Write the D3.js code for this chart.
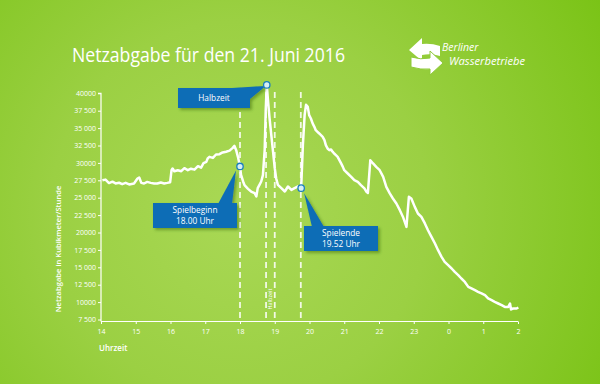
<!DOCTYPE html>
<html><head><meta charset="utf-8">
<script src="https://cdn.jsdelivr.net/npm/d3@7"></script>
<style>
html,body{margin:0;padding:0;background:#8fca3a;}
svg{display:block;}
text{font-family:"Open Sans","Noto Sans",sans-serif;}
</style></head>
<body>
<script>
// ---- data ----
const title = "Netzabgabe für den 21. Juni 2016";
const hours = [14.04,14.13,14.23,14.33,14.42,14.52,14.61,14.71,14.81,14.95,15.05,15.10,15.16,15.24,15.33,15.43,15.53,15.62,15.72,15.82,15.91,15.99,16.03,16.06,16.11,16.21,16.31,16.40,16.50,16.59,16.69,16.79,16.88,16.95,17.03,17.07,17.12,17.22,17.31,17.41,17.50,17.60,17.70,17.79,17.84,17.89,17.94,18.00,18.03,18.09,18.13,18.23,18.32,18.42,18.47,18.51,18.56,18.61,18.66,18.71,18.74,18.77,18.80,18.85,18.90,18.95,19.00,19.04,19.09,19.19,19.29,19.38,19.48,19.57,19.67,19.76,19.81,19.86,19.90,19.95,19.99,20.04,20.09,20.14,20.18,20.23,20.28,20.33,20.38,20.43,20.47,20.52,20.57,20.62,20.67,20.71,20.76,20.81,20.86,20.91,20.96,21.00,21.10,21.20,21.29,21.39,21.48,21.58,21.64,21.68,21.75,21.83,21.92,22.02,22.12,22.21,22.31,22.40,22.50,22.60,22.69,22.74,22.79,22.86,22.93,23.03,23.12,23.22,23.32,23.41,23.51,23.61,23.70,23.80,23.89,23.99,24.09,24.18,24.28,24.37,24.47,24.57,24.66,24.76,24.85,24.95,25.05,25.14,25.24,25.33,25.43,25.53,25.62,25.72,25.77,25.80,25.86,25.96,26.01];
const netzabgabe = [27500,27600,27100,27300,27050,27150,26950,27130,26900,27040,27760,27900,27130,27040,27270,27130,27040,27040,27190,27040,27130,27230,28950,29200,28800,28950,28810,29240,28950,29170,29030,29530,29310,29960,30150,30640,30870,30720,31210,31250,31500,31610,31760,32160,32450,31830,30870,29490,28280,27330,26800,26270,25890,25650,25180,26370,26840,27330,28240,31830,37580,41210,39300,36430,34030,31640,29240,27800,26840,26370,25890,26610,26120,26370,26610,26370,32590,36900,38340,38050,36860,36380,35670,35180,34700,34460,34230,33980,33740,33270,32550,32070,31830,31930,31580,31350,31110,30870,30390,29920,29430,28950,28480,27990,27520,27270,26800,26330,25840,25690,30390,29920,29430,28950,27990,26560,25610,24890,24170,23210,22240,21530,20810,25120,24890,23680,22730,22240,21300,20330,19370,18420,17460,16500,15780,15300,14830,14340,13870,13390,12900,12190,11960,11710,11470,11240,10990,10520,10270,10030,9800,9560,9310,9310,9800,8940,9080,9080,9220];
const yTicks = [7500,10000,12500,15000,17500,20000,22500,25000,27500,30000,32500,35000,37500,40000];
const yTickLabels = ["7 500","10000","12 500","15 000","17 500","20000","22 500","25 000","27 500","30000","32 500","35 000","37 500","40000"];
const xTicks = [14,15,16,17,18,19,20,21,22,23,24,25,26];
const xTickLabels = ["14","15","16","17","18","19","20","21","22","23","0","1","2"];
const eventLines = [18.0, 18.75, 19.0, 19.75];
const callouts = [
  {lines:["Halbzeit"], hour:18.77, value:41210},
  {lines:["Spielbeginn","18.00 Uhr"], hour:18.00, value:29490},
  {lines:["Spielende","19.52 Uhr"], hour:19.76, value:26370}
];
const yTitle = "Netzabgabe in Kubikmeter/Stunde";
const xTitle = "Uhrzeit";

// ---- drawing ----
const W = 600, H = 384;
const svg = d3.select("body").append("svg").attr("width", W).attr("height", H);
const defs = svg.append("defs");
const rg = defs.append("radialGradient").attr("id","bg").attr("gradientUnits","userSpaceOnUse")
  .attr("cx",240).attr("cy",210).attr("r",420);
rg.append("stop").attr("offset","0%").attr("stop-color","#a9d855");
rg.append("stop").attr("offset","45%").attr("stop-color","#9bd043");
rg.append("stop").attr("offset","100%").attr("stop-color","#7ac316");
svg.append("rect").attr("width",W).attr("height",H).attr("fill","url(#bg)");

const sh = defs.append("filter").attr("id","shadow").attr("x","-20%").attr("y","-30%").attr("width","150%").attr("height","170%");
sh.append("feDropShadow").attr("dx",2).attr("dy",2).attr("stdDeviation",1.5).attr("flood-color","#2a5a10").attr("flood-opacity",0.45);

const x = d3.scaleLinear().domain([14,26]).range([101,518]);
const y = d3.scaleLinear().domain([7500,40000]).range([319.5,93.3]);

// title
svg.append("text").attr("x",72).attr("y",62).attr("fill","#fff")
  .attr("font-size",19.5).attr("textLength",273).attr("lengthAdjust","spacingAndGlyphs")
  .text(title);

// logo
const logo = svg.append("g");
logo.append("path").attr("fill","#fff")
  .attr("d","M409,50 L422,38 L422,44 Q431,43 440,46 L440,56 Q431,53 422,55 L422,61 Z");
logo.append("path").attr("fill","#fff").attr("stroke","#8fca3a").attr("stroke-width",1)
  .attr("d","M443,63 L430,75 L430,69 Q421,70 411,67 L411,57 Q421,60 430,58 L430,51 Z");
logo.append("text").attr("x",442).attr("y",51).attr("fill","#fff").attr("font-size",10.5)
  .attr("font-style","italic").text("Berliner");
logo.append("text").attr("x",449).attr("y",64.5).attr("fill","#fff").attr("font-size",10.5)
  .attr("font-style","italic").attr("textLength",76).attr("lengthAdjust","spacingAndGlyphs").text("Wasserbetriebe");

// axes
const yAxis = d3.axisLeft(y).tickValues(yTicks).tickSize(3).tickPadding(2)
  .tickFormat((d,i)=>yTickLabels[i]);
const gy = svg.append("g").attr("transform","translate(101,0)").call(yAxis);
gy.select(".domain").attr("stroke","#fff").attr("stroke-width",1.2).attr("d","M-3,93.3H0V321.5");
gy.selectAll(".tick line").attr("stroke","#fff").attr("stroke-width",1);
gy.selectAll(".tick text").attr("fill","#fff").attr("font-size",7).attr("font-family","Open Sans, sans-serif");

const xAxis = d3.axisBottom(x).tickValues(xTicks).tickSize(2.5).tickPadding(5)
  .tickFormat((d,i)=>xTickLabels[i]);
const gx = svg.append("g").attr("transform","translate(0,321.5)").call(xAxis);
gx.select(".domain").attr("stroke","#fff").attr("stroke-width",1.2).attr("d","M101,0H518");
gx.selectAll(".tick line").attr("stroke","#fff").attr("stroke-width",1);
gx.selectAll(".tick text").attr("fill","#fff").attr("font-size",7).attr("font-family","Open Sans, sans-serif");

svg.append("text").attr("x",99).attr("y",351).attr("fill","#fff").attr("font-size",8).attr("font-weight",600).text(xTitle);
svg.append("text").attr("transform","translate(61,249) rotate(-90)").attr("text-anchor","middle")
  .attr("fill","#fff").attr("font-size",7.6).attr("font-weight",600).text(yTitle);

// event lines
svg.append("g").selectAll("line").data(eventLines).join("line")
  .attr("x1",d=>x(d)).attr("x2",d=>x(d)).attr("y1",92).attr("y2",321)
  .attr("stroke","#fff").attr("stroke-opacity",0.85).attr("stroke-width",1.8).attr("stroke-dasharray","6,4");
svg.append("text").attr("transform",`translate(${(x(18.75)+x(19))/2+2},299) rotate(-90)`)
  .attr("text-anchor","middle").attr("fill","#fff").attr("font-size",5.5).text("Halbzeit");

// data line
const pts = hours.map((h,i)=>[h, netzabgabe[i]]);
svg.append("path").datum(pts)
  .attr("fill","none").attr("stroke","#fff").attr("stroke-width",2.5).attr("stroke-linejoin","round")
  .attr("d", d3.line().x(d=>x(d[0])).y(d=>y(d[1])));

// callouts
const boxes = [
  {x:178,y:88,w:72,h:20},
  {x:153,y:203,w:84,h:25},
  {x:304,y:226,w:74,h:25}
];
const pointers = [
  (cx,cy)=>`M232,88 L250,99 L${cx-1},${cy+1} Z`,
  (cx,cy)=>`M218,204 L232,204 L${cx-4},${cy+4} Z`,
  (cx,cy)=>`M312,227 L324,227 L${cx+3},${cy+5} Z`
];
callouts.forEach((c,i)=>{
  const b = boxes[i];
  const cx = x(c.hour), cy = y(c.value);
  const g = svg.append("g").attr("filter","url(#shadow)");
  g.append("path").attr("d",pointers[i](cx,cy)).attr("fill","#0c6db6");
  g.append("rect").attr("x",b.x).attr("y",b.y).attr("width",b.w).attr("height",b.h).attr("fill","#0c6db6");
  c.lines.forEach((t,j)=>{
    svg.append("text").attr("x",b.x+b.w/2).attr("y",b.y+b.h/2+3 + (j - (c.lines.length-1)/2)*10.5)
      .attr("text-anchor","middle").attr("fill","#fff").attr("font-size",8.3).text(t);
  });
  svg.append("circle").attr("cx",cx).attr("cy",cy).attr("r",3.2)
    .attr("fill","#d8f0f4").attr("stroke","#1b7fbf").attr("stroke-width",1.3);
});
</script>
</body></html>
